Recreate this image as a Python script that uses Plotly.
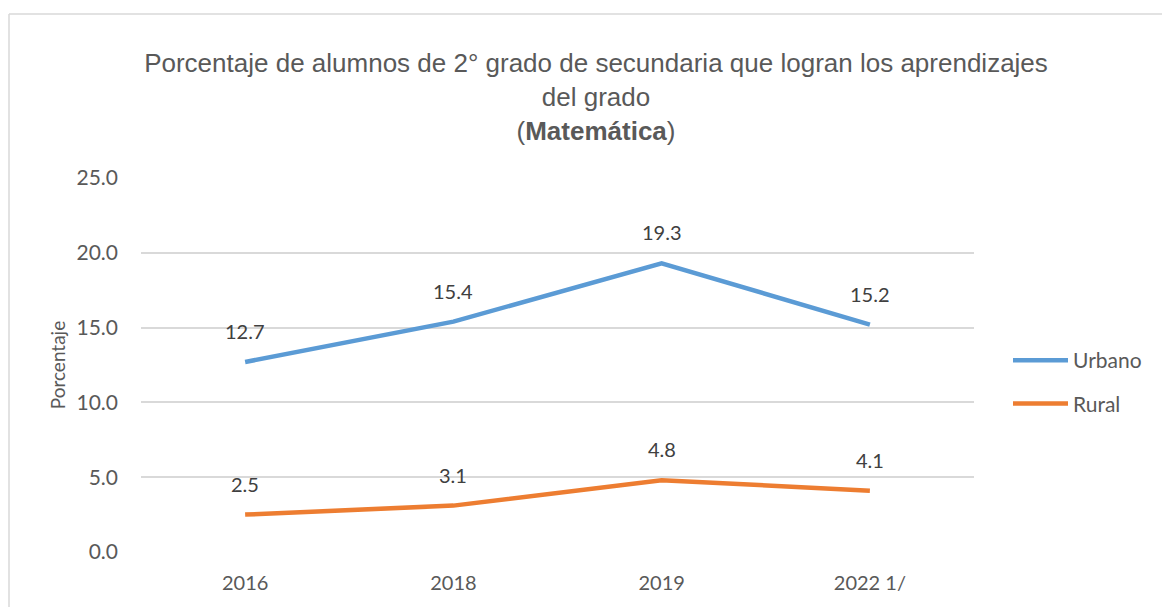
import plotly.graph_objects as go

categories = ["2016", "2018", "2019", "2022 1/"]
urbano = [12.7, 15.4, 19.3, 15.2]
rural = [2.5, 3.1, 4.8, 4.1]
y_ticks = [0, 5, 10, 15, 20, 25]
y_tick_labels = ["0.0", "5.0", "10.0", "15.0", "20.0", "25.0"]

BLUE = "#5B9BD5"
ORANGE = "#ED7D31"
TXT = "#595959"
LBL = "#404040"
FONT = "Lato"

fig = go.Figure()
fig.add_trace(go.Scatter(x=categories, y=urbano, mode="lines", name="Urbano",
                         line=dict(color=BLUE, width=4.5), legendgroup="u"))
fig.add_trace(go.Scatter(x=categories, y=rural, mode="lines", name="Rural",
                         line=dict(color=ORANGE, width=4.5), legendgroup="r"))

for series in (urbano, rural):
    for i, v in enumerate(series):
        fig.add_annotation(x=i, y=v, xref="x", yref="y", text=f"{v:.1f}", showarrow=False,
                           yshift=31, font=dict(family=FONT, size=20, color=LBL))

W, H = 1162, 607
L, R, T, B = 141, 188, 178, 55
pw, ph = W - L - R, H - T - B

def px_x(p):
    return (p - L) / pw

def px_y(p):
    return (H - B - p) / ph

fig.add_shape(type="line", xref="paper", yref="paper",
              x0=px_x(9), y0=px_y(14), x1=px_x(1170), y1=px_y(14),
              line=dict(color="#D9D9D9", width=1.5))
fig.add_shape(type="line", xref="paper", yref="paper",
              x0=px_x(9), y0=px_y(14), x1=px_x(9), y1=px_y(620),
              line=dict(color="#D9D9D9", width=1.5))

fig.update_layout(
    width=W, height=H,
    margin=dict(l=L, r=R, t=T, b=B),
    paper_bgcolor="white", plot_bgcolor="white",
    title=dict(
        text="Porcentaje de alumnos de 2° grado de secundaria que logran los aprendizajes<br>del grado<br>(<b>Matemática</b>)",
        x=596 / W, xanchor="center", y=1 - 72 / H, yanchor="middle",
        font=dict(family="Liberation Sans", size=26, color=TXT),
    ),
    xaxis=dict(type="category", range=[-0.5, 3.5], showgrid=False, showline=False,
               ticks="", ticklabelstandoff=17,
               tickfont=dict(family=FONT, size=20, color=TXT)),
    yaxis=dict(range=[0, 25], tickvals=y_ticks, ticktext=y_tick_labels,
               showgrid=True, gridcolor="#D9D9D9", gridwidth=1.5, zeroline=False,
               showline=False, ticks="", ticklabelstandoff=22,
               tickfont=dict(family=FONT, size=21, color=TXT),
               title=dict(text="Porcentaje", font=dict(family=FONT, size=19, color=TXT), standoff=5)),
    legend=dict(x=px_x(1008), y=px_y(340), xanchor="left", yanchor="top",
                font=dict(family=FONT, size=21, color=TXT),
                traceorder="grouped", tracegroupgap=13, itemwidth=55),
    showlegend=True,
)

fig.write_html("out.html", config={"displayModeBar": False},
               post_script="document.body.style.margin='0';")
